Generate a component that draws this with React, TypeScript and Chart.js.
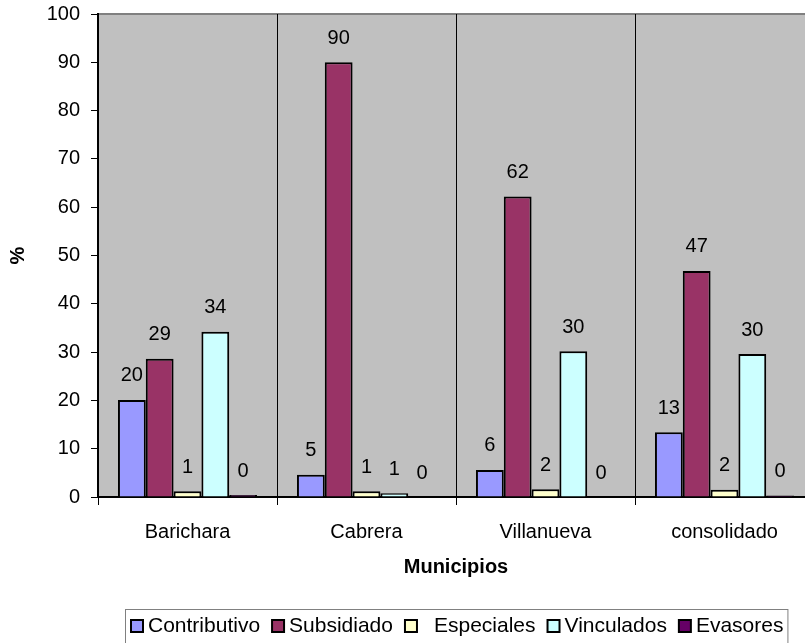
import React, { useEffect, useRef } from "react";
import { Chart, registerables } from "chart.js";

Chart.register(...registerables);

const categories = ["Barichara", "Cabrera", "Villanueva", "consolidado"];
const contributivo = [20.1, 4.6, 5.6, 13.4];
const subsidiado = [28.6, 90, 62.2, 46.8];
const especiales = [1.2, 1.2, 1.6, 1.5];
const vinculados = [34.2, 0.8, 30.2, 29.6];
const evasores = [0.4, 0, 0, 0.3];
const seriesNames = ["Contributivo", "Subsidiado", "Especiales", "Vinculados", "Evasores"];
const seriesColors = ["#9999FF", "#993366", "#FFFFCC", "#CCFFFF", "#660066"];
const yMin = 0;
const yMax = 100;
const yStep = 10;
const xTitle = "Municipios";
const yTitle = "%";

const FONT = "'Liberation Sans', Arial, sans-serif";

const bgPlugin = {
  id: "plotBg",
  beforeDraw(chart: any) {
    const { ctx, chartArea: a } = chart;
    ctx.save();
    ctx.fillStyle = "#C0C0C0";
    ctx.fillRect(a.left, a.top, a.right - a.left, a.bottom - a.top);
    ctx.strokeStyle = "#808080";
    ctx.lineWidth = 2;
    ctx.beginPath();
    ctx.moveTo(a.left, a.top);
    ctx.lineTo(a.right, a.top);
    ctx.lineTo(a.right, a.bottom);
    ctx.stroke();
    ctx.restore();
  },
};

const labelPlugin = {
  id: "valueLabels",
  afterDatasetsDraw(chart: any) {
    const { ctx } = chart;
    ctx.save();
    ctx.font = `20px ${FONT}`;
    ctx.fillStyle = "#000";
    ctx.textAlign = "center";
    ctx.textBaseline = "middle";
    chart.data.datasets.forEach((ds: any, di: number) => {
      const meta = chart.getDatasetMeta(di);
      meta.data.forEach((bar: any, i: number) => {
        const v = ds.data[i];
        ctx.fillText(String(Math.round(v)), bar.x, bar.y - 24);
      });
    });
    ctx.restore();
  },
};

const legendPlugin = {
  id: "boxLegend",
  afterDraw(chart: any) {
    const { ctx } = chart;
    ctx.save();
    ctx.font = `21px ${FONT}`;
    ctx.textBaseline = "middle";
    ctx.textAlign = "left";
    const startX = 131;
    let x = startX;
    const cy = 626;
    chart.data.datasets.forEach((ds: any, i: number) => {
      ctx.fillStyle = ds.backgroundColor;
      ctx.fillRect(x, cy - 6, 12, 12);
      ctx.strokeStyle = "#000";
      ctx.lineWidth = 2;
      ctx.strokeRect(x, cy - 6, 12, 12);
      x += 12 + 5;
      if (i === 2) x += 12;
      ctx.fillStyle = "#000";
      ctx.fillText(ds.label, x, cy);
      x += ctx.measureText(ds.label).width + 12;
    });
    ctx.strokeStyle = "#808080";
    ctx.lineWidth = 1;
    ctx.strokeRect(startX - 5.5, 609.5, x - startX - 2, 40);
    ctx.restore();
  },
};

export default function App() {
  const ref = useRef<HTMLCanvasElement | null>(null);
  useEffect(() => {
    if (!ref.current) return;
    const series = [contributivo, subsidiado, especiales, vinculados, evasores];
    const chart = new Chart(ref.current, {
      type: "bar",
      data: {
        labels: categories,
        datasets: series.map((d, i) => ({
          label: seriesNames[i],
          data: d,
          backgroundColor: seriesColors[i],
          borderColor: "#000",
          borderWidth: 2,
          borderSkipped: "bottom",
          barPercentage: 1,
          categoryPercentage: 0.777,
        })),
      },
      options: {
        responsive: false,
        animation: false,
        devicePixelRatio: 1,
        layout: { padding: { left: 0, top: 14, right: 6, bottom: 64 } },
        plugins: { legend: { display: false }, tooltip: { enabled: false } },
        scales: {
          x: {
            afterFit(s: any) { s.height = 82; s.paddingLeft = 0; s.paddingRight = 0; },
            grid: { offset: true, color: "#000", lineWidth: 1, drawOnChartArea: true, tickLength: 8 },
            border: { color: "#000", width: 2 },
            ticks: { color: "#000", font: { family: FONT, size: 20 }, padding: 15, maxRotation: 0 },
            title: { display: true, text: xTitle, color: "#000", font: { family: FONT, size: 20, weight: "bold" }, padding: { top: 0, bottom: 0 } },
          },
          y: {
            min: yMin,
            max: yMax,
            afterFit(s: any) { s.width = 98; s.paddingTop = 0; s.paddingBottom = 0; },
            grid: { drawOnChartArea: false, color: "#000", tickLength: 7 },
            border: { color: "#000", width: 2 },
            ticks: { stepSize: yStep, color: "#000", font: { family: FONT, size: 20 }, padding: 11 },
            title: { display: true, text: yTitle, color: "#000", font: { family: FONT, size: 20, weight: "bold" }, padding: { top: 6, bottom: 0 } },
          },
        },
      },
      plugins: [bgPlugin, labelPlugin, legendPlugin],
    });
    return () => chart.destroy();
  }, []);
  return (
    <div style={{ position: "fixed", left: 0, top: 0, width: 805, height: 643, overflow: "hidden", background: "#fff" }}>
      <canvas ref={ref} width={820} height={643} style={{ display: "block", width: 820, height: 643 }} />
    </div>
  );
}
